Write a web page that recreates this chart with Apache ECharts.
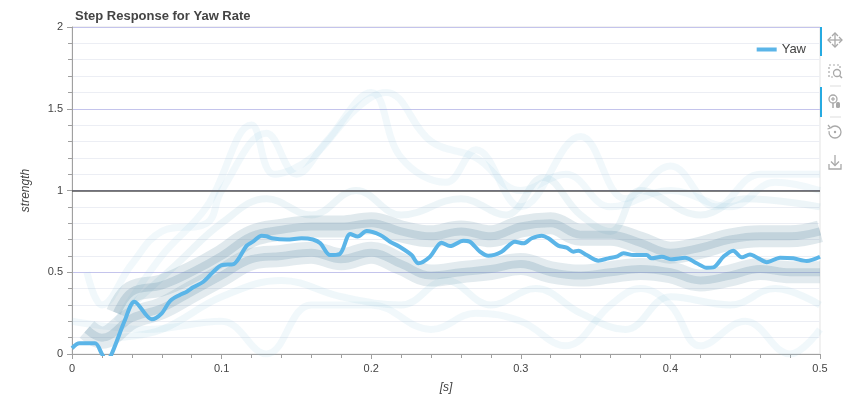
<!DOCTYPE html>
<html>
<head>
<meta charset="utf-8">
<script src="https://cdn.jsdelivr.net/npm/echarts@6/dist/echarts.min.js"></script>
<style>
  html, body { margin: 0; padding: 0; background: #fff; }
  #chart { width: 861px; height: 403px; }
</style>
</head>
<body>
<div id="chart"></div>
<script>
// Yaw step response
const yawT = [0, 0.005, 0.0154, 0.02, 0.023, 0.0265, 0.0354, 0.0417, 0.0533, 0.06,
  0.0655, 0.072, 0.0767, 0.081, 0.0878, 0.0945, 0.1, 0.108, 0.1168, 0.121,
  0.1268, 0.130, 0.1335, 0.1435, 0.1535, 0.161, 0.166, 0.1725, 0.179, 0.186,
  0.191, 0.197, 0.206, 0.2126, 0.219, 0.227, 0.2315, 0.2393, 0.247, 0.2527,
  0.2616, 0.266, 0.2727, 0.2783, 0.2872, 0.2961, 0.3017, 0.3073, 0.314, 0.3184,
  0.325, 0.3307, 0.3351, 0.3385, 0.344, 0.3518, 0.3585, 0.364, 0.3686, 0.3752,
  0.3841, 0.3875, 0.3942, 0.4009, 0.4098, 0.4176, 0.4242, 0.4287, 0.4354, 0.442,
  0.4477, 0.4532, 0.4588, 0.4644, 0.4733, 0.4822, 0.4911, 0.5];
const yawV = [0.035, 0.065, 0.065, 0.0, -0.04, 0.0, 0.208, 0.32, 0.212, 0.249,
  0.324, 0.361, 0.381, 0.408, 0.442, 0.503, 0.544, 0.55, 0.663, 0.687,
  0.724, 0.72, 0.708, 0.70, 0.708, 0.70, 0.677, 0.605, 0.612, 0.734,
  0.718, 0.752, 0.728, 0.687, 0.656, 0.605, 0.555, 0.595, 0.681, 0.66,
  0.693, 0.687, 0.626, 0.601, 0.626, 0.687, 0.677, 0.708, 0.724, 0.708,
  0.663, 0.65, 0.626, 0.632, 0.605, 0.571, 0.585, 0.595, 0.616, 0.605,
  0.605, 0.585, 0.595, 0.579, 0.589, 0.555, 0.528, 0.53, 0.595, 0.632,
  0.591, 0.609, 0.585, 0.561, 0.589, 0.585, 0.569, 0.595];

// dense bands of the individual responses (rough reading of the shading)
const bandUpper = [[0.03, 0.25], [0.04, 0.38], [0.06, 0.42], [0.08, 0.5], [0.1, 0.6], [0.12, 0.72],
  [0.14, 0.76], [0.16, 0.78], [0.18, 0.78], [0.2, 0.8], [0.22, 0.75], [0.24, 0.72],
  [0.26, 0.75], [0.28, 0.72], [0.3, 0.78], [0.32, 0.8], [0.34, 0.73], [0.36, 0.73],
  [0.38, 0.68], [0.4, 0.62], [0.42, 0.65], [0.44, 0.7], [0.46, 0.72], [0.48, 0.72], [0.5, 0.75]];
const bandLower = [[0.01, 0.15], [0.02, 0.1], [0.04, 0.22], [0.06, 0.28], [0.08, 0.38],
  [0.1, 0.48], [0.12, 0.58], [0.14, 0.6], [0.16, 0.62], [0.18, 0.58], [0.2, 0.62],
  [0.22, 0.55], [0.24, 0.48], [0.26, 0.5], [0.28, 0.52], [0.3, 0.55], [0.32, 0.5],
  [0.34, 0.48], [0.36, 0.5], [0.38, 0.52], [0.4, 0.5], [0.42, 0.45], [0.44, 0.48],
  [0.46, 0.52], [0.48, 0.5], [0.5, 0.5]];
// faint individual traces
const traceHigh = [[0.03, 0.2], [0.06, 0.6], [0.09, 0.9], [0.12, 1.4], [0.135, 1.1],
  [0.16, 1.2], [0.19, 1.5], [0.21, 1.6], [0.24, 1.3], [0.27, 1.2], [0.3, 1.0],
  [0.33, 1.1], [0.36, 0.9], [0.4, 1.0], [0.44, 0.9], [0.47, 1.05], [0.5, 1.0]];
const traceHigh2 = [[0.01, 0.5], [0.02, 0.3], [0.04, 0.55], [0.06, 0.75], [0.09, 0.8],
  [0.1, 1.0], [0.13, 1.35], [0.15, 1.1], [0.17, 1.3], [0.2, 1.6], [0.22, 1.2],
  [0.25, 1.05], [0.27, 1.25], [0.3, 0.9], [0.34, 1.33], [0.37, 0.95], [0.4, 1.15],
  [0.43, 0.9], [0.46, 1.1], [0.5, 1.1]];
const traceMid = [[0.04, 0.3], [0.07, 0.55], [0.1, 0.8], [0.13, 0.95], [0.16, 0.85], [0.19, 1.0],
  [0.22, 0.85], [0.26, 0.95], [0.29, 0.85], [0.315, 1.08], [0.34, 0.85], [0.36, 0.75],
  [0.38, 1.0], [0.42, 0.85], [0.45, 0.95], [0.5, 0.9]];
const traceLow = [[0, 0.2], [0.05, 0.15], [0.1, 0.2], [0.13, 0], [0.16, 0.3], [0.2, 0.3],
  [0.24, 0.15], [0.27, 0.25], [0.3, 0.2], [0.33, 0.05], [0.36, 0.3], [0.38, 0.4],
  [0.4, 0.3], [0.42, 0.05], [0.45, 0.2], [0.48, 0], [0.5, 0.15]];
const traceLow2 = [[0.03, 0.1], [0.06, 0.15], [0.1, 0.35], [0.14, 0.45], [0.18, 0.35],
  [0.22, 0.3], [0.25, 0.45], [0.28, 0.3], [0.31, 0.4], [0.34, 0.25], [0.37, 0.15],
  [0.4, 0.35], [0.44, 0.3], [0.47, 0.4], [0.5, 0.3]];

const xTicks = [0, 0.1, 0.2, 0.3, 0.4, 0.5];
const yTicks = [0, 0.5, 1, 1.5, 2];

const chart = echarts.init(document.getElementById('chart'));
const font = 'Liberation Sans, Arial, sans-serif';

function shade(data, color, width) {
  return {
    type: 'line', data: data, smooth: 0.4, symbol: 'none', silent: true,
    lineStyle: { color: color, width: width, cap: 'butt' }, z: 1
  };
}

const iconColor = '#a9a9a9';
const toolbar = [
  { type: 'rect', shape: { x: 820, y: 27, width: 2, height: 29 }, style: { fill: '#26aae1' } },
  { type: 'rect', shape: { x: 820, y: 87, width: 2, height: 30 }, style: { fill: '#26aae1' } },
  // pan
  { type: 'line', shape: { x1: 835, y1: 33, x2: 835, y2: 47 }, style: { stroke: iconColor, lineWidth: 1.3 } },
  { type: 'line', shape: { x1: 828, y1: 40, x2: 842, y2: 40 }, style: { stroke: iconColor, lineWidth: 1.3 } },
  { type: 'polyline', shape: { points: [[832, 36], [835, 33], [838, 36]] }, style: { stroke: iconColor, fill: null, lineWidth: 1.3 } },
  { type: 'polyline', shape: { points: [[832, 44], [835, 47], [838, 44]] }, style: { stroke: iconColor, fill: null, lineWidth: 1.3 } },
  { type: 'polyline', shape: { points: [[831, 37], [828, 40], [831, 43]] }, style: { stroke: iconColor, fill: null, lineWidth: 1.3 } },
  { type: 'polyline', shape: { points: [[839, 37], [842, 40], [839, 43]] }, style: { stroke: iconColor, fill: null, lineWidth: 1.3 } },
  // box zoom
  { type: 'polyline', shape: { points: [[833, 77], [829, 77], [829, 65], [840, 65], [840, 69]] }, style: { stroke: iconColor, fill: null, lineWidth: 1.2, lineDash: [2, 2] } },
  { type: 'circle', shape: { cx: 837, cy: 73, r: 3.5 }, style: { stroke: iconColor, fill: null, lineWidth: 1.3 } },
  { type: 'line', shape: { x1: 839.5, y1: 75.5, x2: 842, y2: 78 }, style: { stroke: iconColor, lineWidth: 1.5 } },
  { type: 'line', shape: { x1: 830, y1: 86, x2: 841, y2: 86 }, style: { stroke: '#ddd', lineWidth: 1 } },
  // wheel zoom
  { type: 'circle', shape: { cx: 833, cy: 99, r: 4 }, style: { stroke: iconColor, fill: null, lineWidth: 1.3 } },
  { type: 'line', shape: { x1: 831, y1: 99, x2: 835, y2: 99 }, style: { stroke: iconColor, lineWidth: 1.2 } },
  { type: 'line', shape: { x1: 833, y1: 97, x2: 833, y2: 101 }, style: { stroke: iconColor, lineWidth: 1.2 } },
  { type: 'line', shape: { x1: 833, y1: 103, x2: 833, y2: 108 }, style: { stroke: iconColor, lineWidth: 1.5 } },
  { type: 'rect', shape: { x: 836, y: 102, width: 4, height: 6, r: 1.5 }, style: { fill: iconColor } },
  { type: 'line', shape: { x1: 830, y1: 117, x2: 841, y2: 117 }, style: { stroke: '#ddd', lineWidth: 1 } },
  // reset
  { type: 'arc', shape: { cx: 835, cy: 132, r: 6, startAngle: -Math.PI * 0.75, endAngle: Math.PI * 1.05 }, style: { stroke: iconColor, fill: null, lineWidth: 1.3 } },
  { type: 'polyline', shape: { points: [[828, 125], [830.5, 128], [827.5, 129]] }, style: { stroke: iconColor, fill: null, lineWidth: 1.2 } },
  { type: 'circle', shape: { cx: 835, cy: 132, r: 1.2 }, style: { fill: iconColor } },
  // save
  { type: 'line', shape: { x1: 835, y1: 155, x2: 835, y2: 165 }, style: { stroke: iconColor, lineWidth: 1.3 } },
  { type: 'polyline', shape: { points: [[831, 161.5], [835, 165.5], [839, 161.5]] }, style: { stroke: iconColor, fill: null, lineWidth: 1.3 } },
  { type: 'polyline', shape: { points: [[829, 164], [829, 169], [841, 169], [841, 164]] }, style: { stroke: iconColor, fill: null, lineWidth: 1.3 } }
];

const option = {
  animation: false,
  title: {
    text: 'Step Response for Yaw Rate', left: 70, top: 5,
    textStyle: { fontFamily: font, fontSize: 13, fontWeight: 'bold', color: '#444' }
  },
  legend: {
    data: ['Yaw'], right: 50, top: 38, icon: 'rect', itemWidth: 20, itemHeight: 4,
    textStyle: { fontFamily: font, fontSize: 13, color: '#444' }
  },
  grid: { left: 72, right: 41, top: 27, bottom: 49, show: true, borderColor: '#e3e3e3', borderWidth: 1 },
  xAxis: {
    type: 'value', min: xTicks[0], max: xTicks[xTicks.length - 1], interval: 0.1,
    name: '[s]', nameLocation: 'middle', nameGap: 28,
    nameTextStyle: { fontStyle: 'italic', fontSize: 12, color: '#444', fontFamily: font },
    axisLine: { lineStyle: { color: '#a0a0a0' } },
    axisTick: { length: 5, lineStyle: { color: '#a0a0a0' } },
    minorTick: { show: true, splitNumber: 5, length: 4, lineStyle: { color: '#a0a0a0' } },
    axisLabel: { fontSize: 11, color: '#444', margin: 9, fontFamily: font },
    splitLine: { show: false }
  },
  yAxis: {
    type: 'value', min: yTicks[0], max: yTicks[yTicks.length - 1], interval: 0.5,
    name: 'strength', nameLocation: 'middle', nameGap: 40,
    nameTextStyle: { fontStyle: 'italic', fontSize: 12, color: '#444', fontFamily: font },
    axisLine: { show: true, lineStyle: { color: '#a0a0a0' } },
    axisTick: { show: true, length: 5, lineStyle: { color: '#a0a0a0' } },
    minorTick: { show: true, splitNumber: 5, length: 4, lineStyle: { color: '#a0a0a0' } },
    axisLabel: { fontSize: 11, color: '#444', margin: 9, fontFamily: font },
    splitLine: { show: true, lineStyle: { color: '#c4c4ec', width: 1 } },
    minorSplitLine: { show: true, lineStyle: { color: '#eceef4', width: 1 } }
  },
  graphic: toolbar,
  series: [
    shade(traceHigh, 'rgba(150,200,222,0.13)', 7),
    shade(traceHigh2, 'rgba(150,200,222,0.13)', 7),
    shade(traceMid, 'rgba(140,190,212,0.16)', 7),
    shade(traceLow, 'rgba(150,200,222,0.13)', 7),
    shade(traceLow2, 'rgba(150,200,222,0.15)', 7),
    shade(bandUpper, 'rgba(115,155,175,0.22)', 22),
    shade(bandUpper, 'rgba(115,155,175,0.28)', 8),
    shade(bandLower, 'rgba(115,155,175,0.20)', 22),
    shade(bandLower, 'rgba(115,155,175,0.28)', 8),
    {
      name: 'Yaw', type: 'line', smooth: 0.3, symbol: 'none', z: 5,
      data: yawT.map((t, i) => [t, yawV[i]]),
      lineStyle: { color: '#5bb5e8', width: 4 },
      itemStyle: { color: '#5bb5e8' },
      markLine: {
        silent: true, symbol: 'none', label: { show: false },
        lineStyle: { color: '#555', width: 1.5, type: 'solid' },
        data: [{ yAxis: 1 }]
      }
    }
  ]
};

chart.setOption(option);
</script>
</body>
</html>
